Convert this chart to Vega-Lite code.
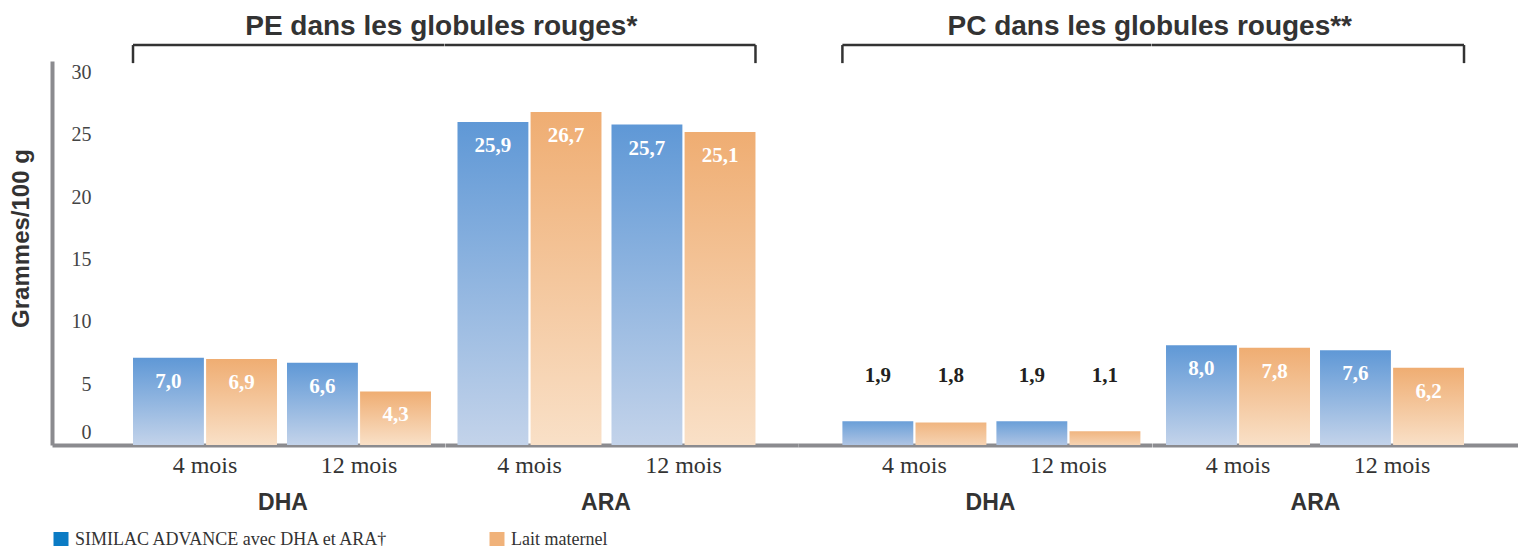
{
  "$schema": "https://vega.github.io/schema/vega-lite/v6.json",
  "padding": {"left": 9, "top": 12, "right": 0, "bottom": 0},
  "autosize": {"type": "pad"},
  "background": "white",
  "datasets": {
    "bars": [
      {"panel": "PE", "nutrient": "DHA", "month": "4 mois", "series": "SIMILAC ADVANCE avec DHA et ARA†", "value": 7.0},
      {"panel": "PE", "nutrient": "DHA", "month": "4 mois", "series": "Lait maternel", "value": 6.9},
      {"panel": "PE", "nutrient": "DHA", "month": "12 mois", "series": "SIMILAC ADVANCE avec DHA et ARA†", "value": 6.6},
      {"panel": "PE", "nutrient": "DHA", "month": "12 mois", "series": "Lait maternel", "value": 4.3},
      {"panel": "PE", "nutrient": "ARA", "month": "4 mois", "series": "SIMILAC ADVANCE avec DHA et ARA†", "value": 25.9},
      {"panel": "PE", "nutrient": "ARA", "month": "4 mois", "series": "Lait maternel", "value": 26.7},
      {"panel": "PE", "nutrient": "ARA", "month": "12 mois", "series": "SIMILAC ADVANCE avec DHA et ARA†", "value": 25.7},
      {"panel": "PE", "nutrient": "ARA", "month": "12 mois", "series": "Lait maternel", "value": 25.1},
      {"panel": "PC", "nutrient": "DHA", "month": "4 mois", "series": "SIMILAC ADVANCE avec DHA et ARA†", "value": 1.9},
      {"panel": "PC", "nutrient": "DHA", "month": "4 mois", "series": "Lait maternel", "value": 1.8},
      {"panel": "PC", "nutrient": "DHA", "month": "12 mois", "series": "SIMILAC ADVANCE avec DHA et ARA†", "value": 1.9},
      {"panel": "PC", "nutrient": "DHA", "month": "12 mois", "series": "Lait maternel", "value": 1.1},
      {"panel": "PC", "nutrient": "ARA", "month": "4 mois", "series": "SIMILAC ADVANCE avec DHA et ARA†", "value": 8.0},
      {"panel": "PC", "nutrient": "ARA", "month": "4 mois", "series": "Lait maternel", "value": 7.8},
      {"panel": "PC", "nutrient": "ARA", "month": "12 mois", "series": "SIMILAC ADVANCE avec DHA et ARA†", "value": 7.6},
      {"panel": "PC", "nutrient": "ARA", "month": "12 mois", "series": "Lait maternel", "value": 6.2}
    ]
  },
  "spacing": 0,
  "bounds": "flush",
  "resolve": {"scale": {"color": "independent", "xOffset": "independent"}},
  "hconcat": [
    {
      "title": {"text": "PE dans les globules rouges*", "dx": 193, "dy": 27, "offset": 8, "baseline": "alphabetic", "frame": "group", "anchor": "middle"},
      "width": 392.5,
      "height": 384,
      "data": {"name": "bars"},
      "encoding": {
        "x": {"field": "month", "type": "nominal", "scale": {"domain": ["4 mois", "12 mois"], "paddingInner": 0.065, "paddingOuter": 0.3069, "align": 0.857}, "axis": {"title": "DHA", "titleX": 230.5}},
        "y": {"field": "value", "type": "quantitative", "scale": {"domain": [0, 30.8], "nice": false},
          "axis": {
            "title": "Grammes/100 g",
            "values": [0, 5, 10, 15, 20, 25, 30],
            "labelOffset": {"condition": {"test": "datum.value == 0", "value": -13}, "value": 1.5},
            "titleX": -23.5,
            "titleY": 177,
            "titleAngle": -90,
            "titleAlign": "center",
            "titleBaseline": "alphabetic"
          }
        }
      },
      "layer": [
        {
          "transform": [{"filter": "datum.panel == 'PE' && datum.nutrient == 'DHA' && datum.series != 'Lait maternel'"}],
          "mark": {"type": "bar", "color": {"gradient": "linear", "x1": 0, "y1": 0, "x2": 0, "y2": 1, "stops": [{"offset": 0, "color": "#5f98d6"}, {"offset": 1, "color": "#c3d3ea"}]}},
          "encoding": {"xOffset": {"field": "series", "type": "nominal", "scale": {"domain": ["SIMILAC ADVANCE avec DHA et ARA†", "Lait maternel"], "paddingInner": 0.03, "paddingOuter": 0}}}
        },
        {
          "transform": [{"filter": "datum.panel == 'PE' && datum.nutrient == 'DHA' && datum.series == 'Lait maternel'"}],
          "mark": {"type": "bar", "color": {"gradient": "linear", "x1": 0, "y1": 0, "x2": 0, "y2": 1, "stops": [{"offset": 0, "color": "#efad72"}, {"offset": 1, "color": "#f9e0c7"}]}},
          "encoding": {"xOffset": {"field": "series", "type": "nominal"}}
        },
        {
          "transform": [{"filter": "datum.panel == 'PE' && datum.nutrient == 'DHA'"}],
          "mark": {"type": "bar", "opacity": 0},
          "encoding": {
            "xOffset": {"field": "series", "type": "nominal"},
            "color": {"field": "series", "type": "nominal",
              "scale": {"domain": ["SIMILAC ADVANCE avec DHA et ARA†", "Lait maternel"], "range": ["#0b7bc4", "#f0b27a"]},
              "legend": {
                "orient": "none", "legendX": 0, "legendY": 469.5, "direction": "horizontal", "title": null,
                "symbolType": "square", "symbolSize": 225, "symbolOpacity": 1, "symbolStrokeWidth": 0,
                "labelFont": "Liberation Serif", "labelFontSize": 18, "labelColor": "#333333", "labelLimit": 600,
                "columnPadding": 98, "labelOffset": 5,
                "encode": {"symbols": {"update": {"opacity": {"value": 1}}}}
              }
            }
          }
        },
        {
          "transform": [{"filter": "datum.panel == 'PE' && datum.nutrient == 'DHA'"}],
          "mark": {"type": "text", "color": "white", "font": "Liberation Serif", "fontWeight": "bold", "fontSize": 21, "dy": 24, "baseline": "middle"},
          "encoding": {"xOffset": {"field": "series", "type": "nominal"}, "text": {"field": "value", "type": "quantitative", "format": ".1f"}}
        },
        {
          "transform": [{"filter": "datum.panel == 'PE' && datum.nutrient == 'DHA' && datum.month == '4 mois' && datum.series == 'Lait maternel'"}],
          "mark": {"type": "rule", "color": "#333333", "strokeWidth": 2.5, "clip": false},
          "encoding": {"x": {"field": "month", "type": "nominal", "bandPosition": 0}, "x2": {"value": "width"}, "y": {"datum": 32.08}}
        },
        {
          "transform": [{"filter": "datum.panel == 'PE' && datum.nutrient == 'DHA' && datum.month == '4 mois' && datum.series == 'Lait maternel'"}],
          "mark": {"type": "rule", "color": "#333333", "strokeWidth": 2.5, "clip": false},
          "encoding": {"x": {"field": "month", "type": "nominal", "bandPosition": 0}, "y": {"datum": 32.08}, "y2": {"datum": 30.63}}
        }
      ]
    },
    {
      "width": 353,
      "height": 384,
      "data": {"name": "bars"},
      "encoding": {
        "x": {"field": "month", "type": "nominal", "scale": {"domain": ["4 mois", "12 mois"], "paddingInner": 0.065, "paddingOuter": 0.1786, "align": 0.227}, "axis": {"title": "ARA", "titleX": 160.5}},
        "y": {"field": "value", "type": "quantitative", "scale": {"domain": [0, 30.8], "nice": false}, "axis": null}
      },
      "layer": [
        {
          "transform": [{"filter": "datum.panel == 'PE' && datum.nutrient == 'ARA' && datum.series != 'Lait maternel'"}],
          "mark": {"type": "bar", "color": {"gradient": "linear", "x1": 0, "y1": 0, "x2": 0, "y2": 1, "stops": [{"offset": 0, "color": "#5f98d6"}, {"offset": 1, "color": "#c3d3ea"}]}},
          "encoding": {"xOffset": {"field": "series", "type": "nominal", "scale": {"domain": ["SIMILAC ADVANCE avec DHA et ARA†", "Lait maternel"], "paddingInner": 0.03, "paddingOuter": 0}}}
        },
        {
          "transform": [{"filter": "datum.panel == 'PE' && datum.nutrient == 'ARA' && datum.series == 'Lait maternel'"}],
          "mark": {"type": "bar", "color": {"gradient": "linear", "x1": 0, "y1": 0, "x2": 0, "y2": 1, "stops": [{"offset": 0, "color": "#efad72"}, {"offset": 1, "color": "#f9e0c7"}]}},
          "encoding": {"xOffset": {"field": "series", "type": "nominal"}}
        },
        {
          "transform": [{"filter": "datum.panel == 'PE' && datum.nutrient == 'ARA'"}],
          "mark": {"type": "text", "color": "white", "font": "Liberation Serif", "fontWeight": "bold", "fontSize": 21, "dy": 24, "baseline": "middle"},
          "encoding": {"xOffset": {"field": "series", "type": "nominal"}, "text": {"field": "value", "type": "quantitative", "format": ".1f"}}
        },
        {
          "transform": [{"filter": "datum.panel == 'PE' && datum.nutrient == 'ARA' && datum.month == '12 mois' && datum.series == 'Lait maternel'"}],
          "mark": {"type": "rule", "color": "#333333", "strokeWidth": 2.5, "clip": false},
          "encoding": {"x": {"field": "month", "type": "nominal", "bandPosition": 1}, "x2": {"value": 0}, "y": {"datum": 32.08}}
        },
        {
          "transform": [{"filter": "datum.panel == 'PE' && datum.nutrient == 'ARA' && datum.month == '12 mois' && datum.series == 'Lait maternel'"}],
          "mark": {"type": "rule", "color": "#333333", "strokeWidth": 2.5, "clip": false},
          "encoding": {"x": {"field": "month", "type": "nominal", "bandPosition": 1}, "y": {"datum": 32.08}, "y2": {"datum": 30.63}}
        }
      ]
    },
    {
      "title": {"text": "PC dans les globules rouges**", "dx": 175, "dy": 27, "offset": 8, "baseline": "alphabetic", "frame": "group", "anchor": "middle"},
      "width": 353.5,
      "height": 384,
      "data": {"name": "bars"},
      "encoding": {
        "x": {"field": "month", "type": "nominal", "scale": {"domain": ["4 mois", "12 mois"], "paddingInner": 0.065, "paddingOuter": 0.1802, "align": 0.8}, "axis": {"title": "DHA", "titleX": 192}},
        "y": {"field": "value", "type": "quantitative", "scale": {"domain": [0, 30.8], "nice": false}, "axis": null}
      },
      "layer": [
        {
          "transform": [{"filter": "datum.panel == 'PC' && datum.nutrient == 'DHA' && datum.series != 'Lait maternel'"}],
          "mark": {"type": "bar", "color": {"gradient": "linear", "x1": 0, "y1": 0, "x2": 0, "y2": 1, "stops": [{"offset": 0, "color": "#6a9fd8"}, {"offset": 1, "color": "#aec4e4"}]}},
          "encoding": {"xOffset": {"field": "series", "type": "nominal", "scale": {"domain": ["SIMILAC ADVANCE avec DHA et ARA†", "Lait maternel"], "paddingInner": 0.03, "paddingOuter": 0}}}
        },
        {
          "transform": [{"filter": "datum.panel == 'PC' && datum.nutrient == 'DHA' && datum.series == 'Lait maternel'"}],
          "mark": {"type": "bar", "color": {"gradient": "linear", "x1": 0, "y1": 0, "x2": 0, "y2": 1, "stops": [{"offset": 0, "color": "#f0b580"}, {"offset": 1, "color": "#f6d3b2"}]}},
          "encoding": {"xOffset": {"field": "series", "type": "nominal"}}
        },
        {
          "transform": [{"filter": "datum.panel == 'PC' && datum.nutrient == 'DHA'"}],
          "mark": {"type": "text", "color": "#231f20", "font": "Liberation Serif", "fontWeight": "bold", "fontSize": 21, "baseline": "middle"},
          "encoding": {"xOffset": {"field": "series", "type": "nominal"}, "y": {"datum": 5.53}, "text": {"field": "value", "type": "quantitative", "format": ".1f"}}
        },
        {
          "transform": [{"filter": "datum.panel == 'PC' && datum.nutrient == 'DHA' && datum.month == '4 mois' && datum.series == 'Lait maternel'"}],
          "mark": {"type": "rule", "color": "#333333", "strokeWidth": 2.5, "clip": false},
          "encoding": {"x": {"field": "month", "type": "nominal", "bandPosition": 0}, "x2": {"value": "width"}, "y": {"datum": 32.08}}
        },
        {
          "transform": [{"filter": "datum.panel == 'PC' && datum.nutrient == 'DHA' && datum.month == '4 mois' && datum.series == 'Lait maternel'"}],
          "mark": {"type": "rule", "color": "#333333", "strokeWidth": 2.5, "clip": false},
          "encoding": {"x": {"field": "month", "type": "nominal", "bandPosition": 0}, "y": {"datum": 32.08}, "y2": {"datum": 30.63}}
        }
      ]
    },
    {
      "width": 367,
      "height": 384,
      "data": {"name": "bars"},
      "encoding": {
        "x": {"field": "month", "type": "nominal", "scale": {"domain": ["4 mois", "12 mois"], "paddingInner": 0.065, "paddingOuter": 0.224, "align": 0.203}, "axis": {"title": "ARA", "titleX": 163}},
        "y": {"field": "value", "type": "quantitative", "scale": {"domain": [0, 30.8], "nice": false}, "axis": null}
      },
      "layer": [
        {
          "transform": [{"filter": "datum.panel == 'PC' && datum.nutrient == 'ARA' && datum.series != 'Lait maternel'"}],
          "mark": {"type": "bar", "color": {"gradient": "linear", "x1": 0, "y1": 0, "x2": 0, "y2": 1, "stops": [{"offset": 0, "color": "#5f98d6"}, {"offset": 1, "color": "#c3d3ea"}]}},
          "encoding": {"xOffset": {"field": "series", "type": "nominal", "scale": {"domain": ["SIMILAC ADVANCE avec DHA et ARA†", "Lait maternel"], "paddingInner": 0.03, "paddingOuter": 0}}}
        },
        {
          "transform": [{"filter": "datum.panel == 'PC' && datum.nutrient == 'ARA' && datum.series == 'Lait maternel'"}],
          "mark": {"type": "bar", "color": {"gradient": "linear", "x1": 0, "y1": 0, "x2": 0, "y2": 1, "stops": [{"offset": 0, "color": "#efad72"}, {"offset": 1, "color": "#f9e0c7"}]}},
          "encoding": {"xOffset": {"field": "series", "type": "nominal"}}
        },
        {
          "transform": [{"filter": "datum.panel == 'PC' && datum.nutrient == 'ARA'"}],
          "mark": {"type": "text", "color": "white", "font": "Liberation Serif", "fontWeight": "bold", "fontSize": 21, "dy": 24, "baseline": "middle"},
          "encoding": {"xOffset": {"field": "series", "type": "nominal"}, "text": {"field": "value", "type": "quantitative", "format": ".1f"}}
        },
        {
          "transform": [{"filter": "datum.panel == 'PC' && datum.nutrient == 'ARA' && datum.month == '12 mois' && datum.series == 'Lait maternel'"}],
          "mark": {"type": "rule", "color": "#333333", "strokeWidth": 2.5, "clip": false},
          "encoding": {"x": {"field": "month", "type": "nominal", "bandPosition": 1}, "x2": {"value": 0}, "y": {"datum": 32.08}}
        },
        {
          "transform": [{"filter": "datum.panel == 'PC' && datum.nutrient == 'ARA' && datum.month == '12 mois' && datum.series == 'Lait maternel'"}],
          "mark": {"type": "rule", "color": "#333333", "strokeWidth": 2.5, "clip": false},
          "encoding": {"x": {"field": "month", "type": "nominal", "bandPosition": 1}, "y": {"datum": 32.08}, "y2": {"datum": 30.63}}
        }
      ]
    }
  ],
  "config": {
    "view": {"stroke": null},
    "locale": {"number": {"decimal": ",", "thousands": " ", "grouping": [3], "currency": ["", " €"]}},
    "title": {"font": "Liberation Sans", "fontSize": 28, "fontWeight": "bold", "color": "#333333", "anchor": "middle"},
    "axisX": {
      "domainColor": "#8b8b8f", "domainWidth": 4, "ticks": false, "tickSize": 0, "grid": false,
      "labelFont": "Liberation Serif", "labelFontSize": 24, "labelColor": "#333333", "labelAngle": 0,
      "labelBaseline": "alphabetic", "labelPadding": 27,
      "titleFont": "Liberation Sans", "titleFontWeight": "bold", "titleFontSize": 23, "titleColor": "#333333",
      "titleY": 64, "titleBaseline": "alphabetic", "titleAlign": "center"
    },
    "axisY": {
      "domainColor": "#8b8b8f", "domainWidth": 4, "ticks": false, "tickSize": 0, "grid": false,
      "labelFont": "Liberation Serif", "labelFontSize": 20, "labelColor": "#444444",
      "labelAlign": "right", "labelPadding": -39,
      "titleFont": "Liberation Sans", "titleFontWeight": "bold", "titleFontSize": 24, "titleColor": "#333333"
    }
  }
}
